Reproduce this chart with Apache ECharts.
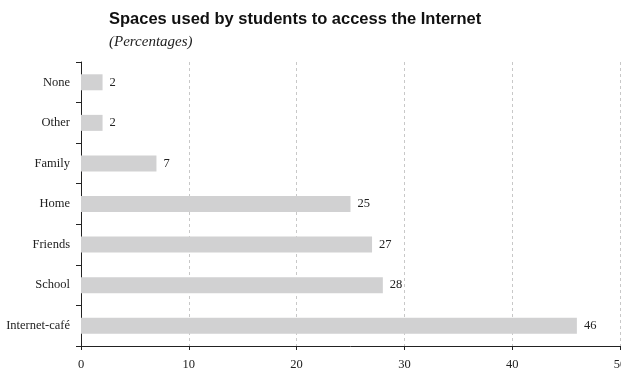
<!DOCTYPE html>
<html>
<head>
<meta charset="utf-8">
<script src="https://cdn.jsdelivr.net/npm/echarts@6/dist/echarts.min.js"></script>
<style>
  html, body { margin: 0; padding: 0; background: #fff; }
  #chart { width: 621px; height: 370px; }
</style>
</head>
<body>
<div id="chart"></div>
<script>
// bottom to top, as the category axis draws them
const categories = ["Internet-café", "School", "Friends", "Home", "Family", "Other", "None"];
const shares = [46, 28, 27, 25, 7, 2, 2];

const chart = echarts.init(document.getElementById("chart"), null, { renderer: "canvas" });

chart.setOption({
    animation: false,
    title: {
        text: "Spaces used by students to access the Internet",
        subtext: "(Percentages)",
        left: 104,
        top: 6,
        itemGap: 7,
        textStyle: { fontFamily: "Liberation Sans", fontWeight: "bold", fontSize: 16.5, color: "#111" },
        subtextStyle: { fontFamily: "Liberation Serif", fontStyle: "italic", fontSize: 15, color: "#222" }
    },
    grid: { left: 81, right: 1, top: 62, bottom: 24, containLabel: false, outerBoundsMode: "none" },
    xAxis: {
        type: "value",
        min: 0,
        max: 50,
        interval: 10,
        axisLine: { show: true, lineStyle: { color: "#222", width: 1 } },
        axisTick: { show: true, length: 4, lineStyle: { color: "#222" } },
        axisLabel: { fontFamily: "Liberation Serif", fontSize: 12.5, color: "#222", margin: 12 },
        splitLine: { show: true, lineStyle: { color: "#c8c8c8", type: [3, 3] } }
    },
    yAxis: {
        type: "category",
        data: categories,
        axisLine: { show: true, lineStyle: { color: "#222", width: 1 } },
        axisTick: { show: true, length: 5, lineStyle: { color: "#222" } },
        axisLabel: { fontFamily: "Liberation Serif", fontSize: 12.5, color: "#222", margin: 11 },
        splitLine: { show: false }
    },
    series: [{
        type: "bar",
        data: shares,
        barWidth: 16,
        itemStyle: { color: "#d1d1d2" },
        label: {
            show: true,
            position: "right",
            distance: 7,
            fontFamily: "Liberation Serif",
            fontSize: 12.5,
            color: "#222"
        }
    }]
});
</script>
</body>
</html>
